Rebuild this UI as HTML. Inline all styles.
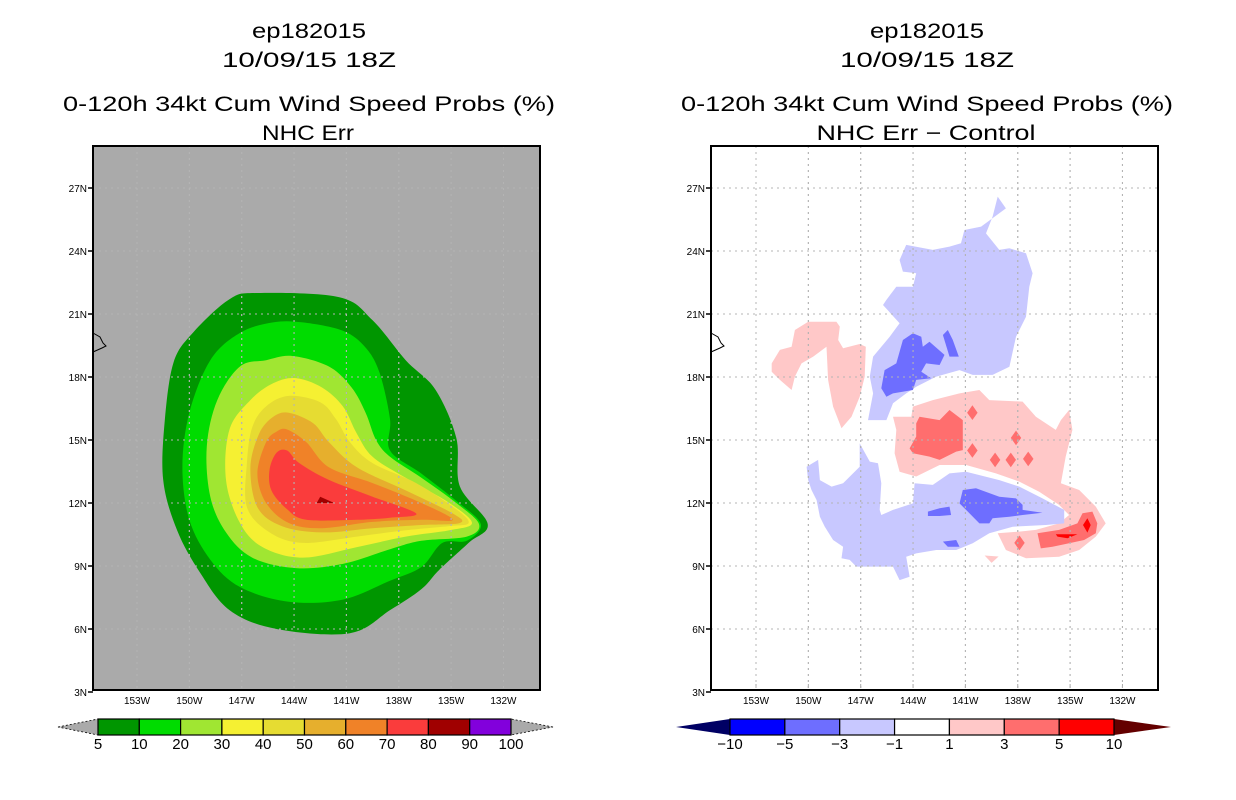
<!DOCTYPE html>
<html><head><meta charset="utf-8"><style>
html,body{margin:0;padding:0;background:#fff;}
svg{display:block;}
text{font-family:"Liberation Sans",sans-serif;fill:#000;}
</style></head><body>
<svg id="svg" width="1236" height="800" viewBox="0 0 1236 800" xmlns="http://www.w3.org/2000/svg">
<g>
<text x="309" y="38" font-size="21" text-anchor="middle" textLength="114" lengthAdjust="spacingAndGlyphs">ep182015</text>
<text x="309" y="67" font-size="21" text-anchor="middle" textLength="174" lengthAdjust="spacingAndGlyphs">10/09/15 18Z</text>
<text x="309" y="111" font-size="21" text-anchor="middle" textLength="492" lengthAdjust="spacingAndGlyphs">0-120h 34kt Cum Wind Speed Probs (%)</text>
<text x="308" y="140" font-size="21" text-anchor="middle" textLength="92" lengthAdjust="spacingAndGlyphs">NHC Err</text>
</g>
<g>
<text x="927" y="38" font-size="21" text-anchor="middle" textLength="114" lengthAdjust="spacingAndGlyphs">ep182015</text>
<text x="927" y="67" font-size="21" text-anchor="middle" textLength="174" lengthAdjust="spacingAndGlyphs">10/09/15 18Z</text>
<text x="927" y="111" font-size="21" text-anchor="middle" textLength="492" lengthAdjust="spacingAndGlyphs">0-120h 34kt Cum Wind Speed Probs (%)</text>
<text x="926" y="140" font-size="21" text-anchor="middle" textLength="219" lengthAdjust="spacingAndGlyphs">NHC Err − Control</text>
</g>
<g id="left"></g>
<g id="right"></g>
<g id="cbars"></g>
</svg>
<script>
// axes
const lonTicks=[153,150,147,144,141,138,135,132];
const latTicks=[27,24,21,18,15,12,9,6,3];
// left colorbar
const leftLevels=["5","10","20","30","40","50","60","70","80","90","100"];
const leftColors=["#009600","#00dc00","#a0e632","#f5f032","#e6dc32","#e6af2d","#f08228","#fa3c3c","#a00000","#8200dc"];
// right colorbar
const rightLevels=["−10","−5","−3","−1","1","3","5","10"];
const rightColors=["#0000ff","#6e6eff","#c8c8ff","#ffffff","#ffc8c8","#ff6e6e","#ff0000"];
// left contour rings [lonW, lat]
const p05=[[146.1,22.0],[141.4,21.8],[139.5,20.7],[137.6,18.8],[135.9,17.4],[134.7,15.1],[134.5,12.8],[132.9,11.0],[134.0,10.1],[135.7,8.8],[136.7,7.9],[138.5,6.9],[140.8,5.8],[145.0,6.0],[147.7,6.9],[149.4,8.7],[150.7,10.7],[151.5,13.1],[151.4,16.0],[150.9,18.7],[149.8,20.1],[147.7,21.7]];
const p10=[[143.5,20.6],[141.2,20.2],[139.9,19.4],[139.1,18.2],[138.5,16.0],[138.5,14.5],[136.7,13.4],[134.7,12.1],[133.3,11.0],[134.1,10.2],[135.5,10.1],[136.7,8.95],[138.5,8.3],[141.2,7.4],[144.3,7.3],[147.1,8.0],[148.8,9.3],[150.0,11.2],[150.4,13.7],[150.0,16.3],[148.8,18.8],[147.1,20.1],[145.2,20.6]];
const p20=[[144.1,19.0],[142.0,18.5],[140.7,17.5],[139.9,16.3],[139.3,15.0],[138.5,14.2],[136.7,13.2],[134.7,12.0],[133.4,11.0],[134.1,10.4],[136.7,10.2],[138.5,9.8],[141.2,9.1],[143.9,8.9],[146.4,9.4],[147.9,10.6],[148.8,12.3],[149.0,14.7],[148.4,16.9],[147.1,18.5],[145.6,18.8]];
const p30=[[143.9,17.95],[142.4,17.5],[141.2,16.6],[140.4,15.3],[139.5,14.2],[137.6,13.2],[135.1,12.0],[133.8,11.05],[135.1,10.7],[137.6,10.4],[140.4,9.9],[143.5,9.4],[145.8,9.9],[147.1,11.05],[147.9,13.1],[147.7,15.5],[146.5,16.9],[145.2,17.7]];
const p40=[[144.3,17.1],[142.5,16.8],[141.6,16.0],[140.8,14.9],[139.5,13.9],[137.0,12.95],[134.7,11.7],[134.0,11.05],[135.1,10.9],[137.6,10.7],[140.4,10.4],[143.5,10.1],[145.4,10.6],[146.7,11.8],[146.7,13.9],[146.4,15.6],[145.6,16.6]];
const p50=[[144.3,16.3],[142.9,15.8],[142.0,14.9],[140.4,13.7],[137.6,12.6],[134.9,11.5],[134.5,11.05],[136.7,10.95],[139.5,10.8],[142.4,10.6],[144.7,10.9],[146.1,11.8],[146.5,13.7],[146.0,15.3],[145.2,16.1]];
const p60=[[144.4,15.5],[143.3,14.9],[142.0,13.7],[139.5,12.95],[136.7,12.0],[134.9,11.2],[136.7,11.2],[139.5,11.1],[142.4,10.8],[144.3,11.05],[145.6,12.0],[146.1,13.4],[145.6,14.9],[145.0,15.4]];
const p70=[[144.4,14.5],[143.7,13.9],[142.0,13.1],[139.5,12.3],[137.0,11.5],[138.5,11.3],[140.4,11.2],[143.3,11.2],[144.4,11.7],[145.3,12.6],[145.4,13.6],[145.0,14.4]];
const p80=[[142.5,12.3],[141.7,12.0],[142.7,12.0]];
// right difference rings [lonW, lat]
const negTop=[[139.15,26.59],[138.68,26.03],[140.10,25.16],[141.06,25.0],[141.25,24.37],[141.91,24.21],[142.87,24.05],[144.39,24.29],[144.77,23.57],[144.58,23.02],[143.82,22.94],[144.01,22.3],[144.96,22.3],[145.53,21.67],[145.72,21.43],[144.77,20.56],[145.34,19.92],[146.29,18.97],[146.48,18.02],[146.29,17.22],[146.58,15.95],[145.53,15.95],[145.15,16.75],[144.39,17.22],[143.82,17.54],[142.67,18.02],[141.34,18.33],[140.58,18.1],[139.44,18.1],[138.48,18.49],[138.1,19.92],[137.53,20.87],[137.34,22.3],[137.15,22.94],[137.53,23.89],[138.48,24.13],[139.06,24.05],[139.82,24.84],[139.44,25.64]];
const neg3TopA=[[144.01,20.08],[143.53,19.92],[143.44,19.44],[143.06,19.68],[142.2,19.05],[142.48,18.57],[143.25,18.65],[143.53,18.25],[142.96,17.94],[143.82,17.86],[144.01,17.38],[145.15,17.22],[145.53,17.06],[145.82,17.46],[145.63,18.33],[144.96,18.65],[144.58,19.76]];
const neg3TopB=[[142.01,20.24],[141.72,19.76],[141.38,18.97],[141.91,18.97],[142.29,20.0]];
const posWest=[[152.1,18.65],[151.63,19.29],[150.96,19.44],[150.77,20.24],[150.01,20.63],[148.39,20.63],[148.2,20.4],[148.29,19.76],[148.01,19.37],[147.06,19.57],[146.71,19.44],[146.77,18.02],[147.06,17.06],[147.53,16.11],[148.1,15.56],[148.58,16.59],[148.87,17.86],[148.96,19.44],[149.72,18.97],[150.39,18.65],[150.77,18.02],[150.96,17.38],[151.63,17.86],[152.1,18.25]];
const posMid=[[145.15,16.11],[144.1,16.11],[144.01,16.59],[142.87,16.9],[141.34,17.22],[140.2,17.38],[139.63,16.9],[137.72,16.83],[136.96,16.11],[135.82,15.48],[135.53,15.95],[135.06,16.43],[134.87,15.48],[135.25,14.21],[135.53,12.94],[134.48,12.62],[133.53,11.83],[132.96,11.03],[133.53,10.4],[134.48,9.76],[135.63,9.44],[137.53,9.37],[138.68,9.76],[139.15,10.56],[137.91,10.64],[136.96,10.72],[135.63,11.03],[135.06,11.43],[135.63,11.91],[136.77,12.54],[137.91,13.02],[139.25,13.41],[140.96,13.81],[142.48,13.81],[143.82,13.26],[144.77,13.49],[145.06,14.37],[144.96,15.48]];
const pos3Mid=[[143.63,16.11],[142.48,15.95],[141.91,16.43],[141.15,15.95],[141.15,14.52],[141.53,14.45],[142.48,14.05],[143.06,14.21],[144.01,14.37],[144.2,14.6],[143.82,15.16],[143.82,15.79]];
const pos3SE=[[136.87,10.56],[135.63,10.72],[134.58,11.03],[134.29,11.51],[133.72,11.59],[133.44,11.03],[133.53,10.56],[134.2,10.24],[135.06,10.08],[136.01,9.92],[136.68,9.84]];
const pos5A=[[134.01,11.27],[133.82,10.95],[134.01,10.59],[134.26,10.95]];
const pos5B=[[135.82,10.51],[134.58,10.51],[135.15,10.32],[135.72,10.4]];
const pos3Dots=[[140.6,16.3],[138.1,15.1],[140.6,14.5],[139.3,14.05],[138.4,14.05],[137.4,14.1],[137.9,10.1]];
const negBot=[[150.1,13.73],[149.44,14.05],[149.34,13.09],[148.67,12.78],[148.01,12.94],[147.06,13.73],[147.06,14.84],[146.48,13.97],[146.01,13.89],[145.82,12.94],[145.91,11.67],[145.82,11.43],[145.15,11.67],[144.01,11.98],[143.91,12.94],[142.87,12.86],[141.91,13.41],[140.96,13.49],[139.06,13.09],[137.91,12.78],[136.58,12.22],[135.34,11.67],[135.34,11.03],[136.39,10.95],[138.29,10.87],[139.63,10.56],[140.58,10.08],[141.53,9.76],[142.67,9.76],[143.82,9.6],[144.39,9.44],[144.2,8.49],[144.77,8.33],[145.15,8.97],[145.91,8.97],[147.25,8.97],[147.63,9.29],[148.1,9.37],[148.01,9.92],[148.58,10.24],[149.06,10.87],[149.34,11.35],[149.53,12.14],[149.82,12.62],[150.01,13.09]];
const neg3BotA=[[141.15,12.62],[140.39,12.7],[139.06,12.3],[138.1,12.22],[137.72,11.91],[137.72,11.67],[136.58,11.54],[137.72,11.43],[138.48,11.35],[139.44,11.27],[139.63,11.03],[140.2,11.03],[140.96,11.67],[141.34,11.98]];
const neg3BotB=[[143.15,11.59],[142.48,11.75],[141.91,11.83],[141.82,11.43],[142.48,11.38],[143.15,11.38]];
const neg3BotC=[[142.29,10.16],[141.53,10.24],[141.34,9.92],[142.01,9.92]];
const posSmall=[[139.9,9.5],[139.1,9.45],[139.5,9.15]];

const NS="http://www.w3.org/2000/svg";
function xL(lonW){return 137+(153-lonW)*17.45;}
function yL(lat){return 188+(27-lat)*21;}
function xR(lonW){return 756+(153-lonW)*17.45;}
function mk(tag,attrs,parent){const e=document.createElementNS(NS,tag);for(const k in attrs)e.setAttribute(k,attrs[k]);parent.appendChild(e);return e;}
function ring(pts,xf){return pts.map(p=>xf(p[0]).toFixed(1)+","+yL(p[1]).toFixed(1)).join(" ");}
// smooth closed path through points (Catmull-Rom)
function smoothPath(pts,xf){
  const P=pts.map(p=>[xf(p[0]),yL(p[1])]);const n=P.length;
  let d=`M${P[0][0].toFixed(1)},${P[0][1].toFixed(1)}`;
  for(let i=0;i<n;i++){
    const p0=P[(i-1+n)%n],p1=P[i],p2=P[(i+1)%n],p3=P[(i+2)%n];
    const c1=[p1[0]+(p2[0]-p0[0])/6,p1[1]+(p2[1]-p0[1])/6];
    const c2=[p2[0]-(p3[0]-p1[0])/6,p2[1]-(p3[1]-p1[1])/6];
    d+=` C${c1[0].toFixed(1)},${c1[1].toFixed(1)} ${c2[0].toFixed(1)},${c2[1].toFixed(1)} ${p2[0].toFixed(1)},${p2[1].toFixed(1)}`;
  }
  return d+'Z';
}

function drawMap(g,x0,xf,bg,name){
  const cp=mk('clipPath',{id:'clip'+name},g);
  mk('rect',{x:x0,y:146,width:447,height:544},cp);
  const bgr=mk('rect',{x:x0,y:146,width:447,height:544,fill:bg},g);
  
  
  const inner=mk('g',{'clip-path':'url(#clip'+name+')'},g);
  return inner;
}
function poly(parent,pts,xf,fill,nm){
  const p=mk('polygon',{points:ring(pts,xf),fill:fill},parent);
  
  
}
function spoly(parent,pts,xf,fill,nm){
  const p=mk('path',{d:smoothPath(pts,xf),fill:fill},parent);
  
  
}
function grid(g,x0,xf,name){
  const gg=mk('g',{},g);
  lonTicks.forEach(l=>{const x=xf(l);
    const ln=mk('line',{x1:x,x2:x,y1:146,y2:690,stroke:'#b4b4b4','stroke-width':1,'stroke-dasharray':'2,4'},gg);
    
    
    const t=mk('text',{x:x,y:704,'font-size':10,'text-anchor':'middle'},g);t.textContent=l+'W';
    
    
    if(name==='right'){mk('line',{x1:x,x2:x,y1:684,y2:688,stroke:'#aaa'},gg);}
  });
  latTicks.forEach(l=>{const y=yL(l);
    if(l>3){const ln=mk('line',{x1:x0,x2:x0+447,y1:y,y2:y,stroke:'#b4b4b4','stroke-width':1,'stroke-dasharray':'2,4'},gg);
    
    }
    mk('line',{x1:x0-5,x2:x0,y1:y,y2:y,stroke:'#000','stroke-width':1.5},g);
    const t=mk('text',{x:x0-6,y:y+4,'font-size':10,'text-anchor':'end'},g);t.textContent=l+'N';
    
    
  });
}
function coast(g,x0){
  const p=mk('path',{d:`M${x0} ${333} L${x0+7} 337 L${x0+10} 343 L${x0+13} 346 L${x0+9} 348 L${x0} 352`,fill:'none',stroke:'#000','stroke-width':1},g);
  
  
}
// LEFT
const L=document.getElementById('left');
const li=drawMap(L,93,xL,'#aaaaaa','left');
[p05,p10,p20,p30,p40,p50,p60,p70].forEach((r,i)=>spoly(li,r,xL,leftColors[i],'prob-contour-'+leftLevels[i]));
poly(li,p80,xL,leftColors[8],'prob-contour-80');
grid(li,93,xL,'left');
coast(L,93);
grid(L,93,xL,'left-axis');
mk('rect',{x:93,y:146,width:447,height:544,fill:'none',stroke:'#000','stroke-width':2},L);
// RIGHT
const R=document.getElementById('right');
const ri=drawMap(R,711,xR,'#ffffff','right');
poly(ri,posWest,xR,rightColors[4],'diff-pos-west');
poly(ri,negTop,xR,rightColors[2],'diff-neg-north');
poly(ri,neg3TopA,xR,rightColors[1],'diff-neg3-north-a');
poly(ri,neg3TopB,xR,rightColors[1],'diff-neg3-north-b');
poly(ri,posMid,xR,rightColors[4],'diff-pos-central');
poly(ri,pos3Mid,xR,rightColors[5],'diff-pos3-central');
pos3Dots.forEach((d,i)=>poly(ri,[[d[0],d[1]+0.35],[d[0]-0.3,d[1]],[d[0],d[1]-0.35],[d[0]+0.3,d[1]]],xR,rightColors[5],'diff-pos3-spot-'+i));
poly(ri,pos3SE,xR,rightColors[5],'diff-pos3-southeast');
poly(ri,pos5A,xR,rightColors[6],'diff-pos5-a');
poly(ri,pos5B,xR,rightColors[6],'diff-pos5-b');
poly(ri,negBot,xR,rightColors[2],'diff-neg-south');
poly(ri,neg3BotA,xR,rightColors[1],'diff-neg3-south-a');
poly(ri,neg3BotB,xR,rightColors[1],'diff-neg3-south-b');
poly(ri,neg3BotC,xR,rightColors[1],'diff-neg3-south-c');
poly(ri,posSmall,xR,rightColors[4],'diff-pos-small');
grid(ri,711,xR,'right');
coast(R,711);
grid(R,711,xR,'right-axis');
mk('rect',{x:711,y:146,width:447,height:544,fill:'none',stroke:'#000','stroke-width':2},R);
// COLORBARS
const C=document.getElementById('cbars');
function cbar(x0,x1,tipL,tipR,colors,levels,lcol,rcol,name,dashTri){
  const w=(x1-x0)/colors.length;
  const tl=mk('polygon',{points:`${tipL},727 ${x0},719 ${x0},735`,fill:lcol,stroke:dashTri?'#000':'none','stroke-dasharray':'2,2','stroke-width':0.8},C);
  
  
  const tr=mk('polygon',{points:`${tipR},727 ${x1},719 ${x1},735`,fill:rcol,stroke:dashTri?'#000':'none','stroke-dasharray':'2,2','stroke-width':0.8},C);
  
  
  colors.forEach((c,i)=>{
    const r=mk('rect',{x:x0+i*w,y:719,width:w,height:16,fill:c,stroke:'#000','stroke-width':1.2},C);
    
    
  });
  levels.forEach((l,i)=>{
    const t=mk('text',{x:x0+i*w,y:749,'font-size':15,'text-anchor':'middle'},C);t.textContent=l;
    
    
  });
}
cbar(98,511,58,553,leftColors,leftLevels,'#aaaaaa','#aaaaaa','left-colorbar',true);
cbar(730,1114,676,1171,rightColors,rightLevels,'#000064','#640000','right-colorbar',false);
</script>
</body></html>
